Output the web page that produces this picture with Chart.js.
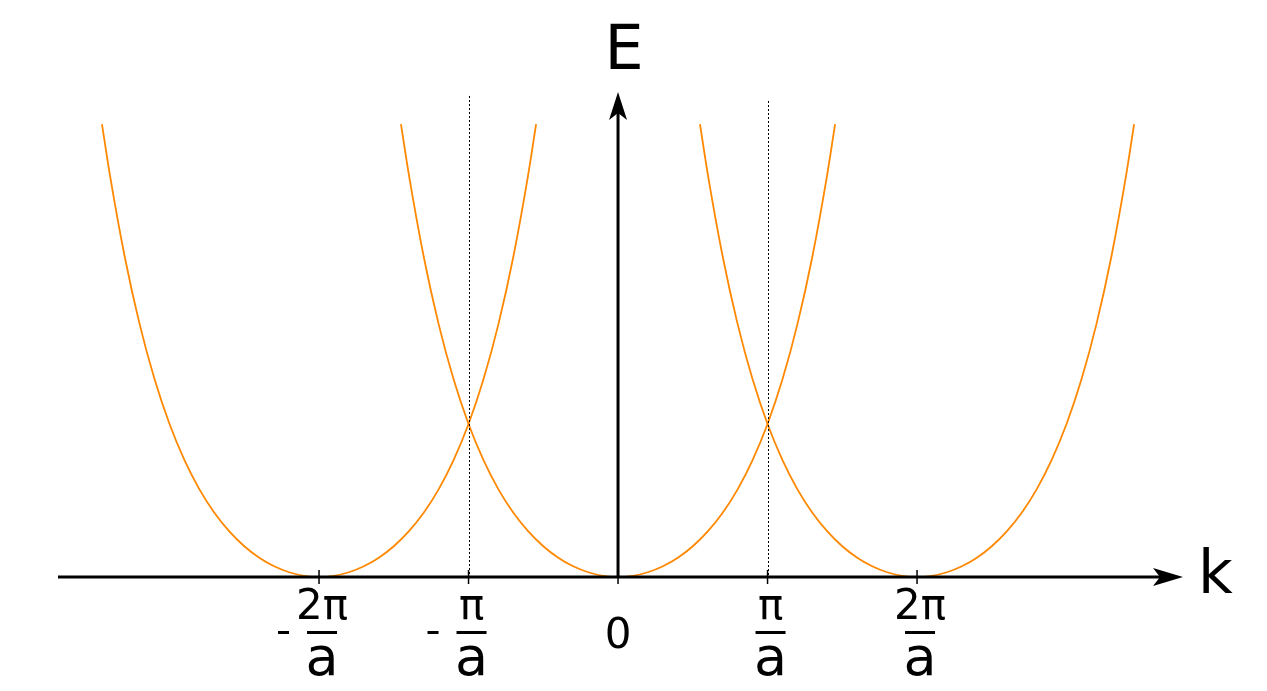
<!DOCTYPE html>
<html>
<head>
<meta charset="utf-8">
<script src="https://cdn.jsdelivr.net/npm/chart.js@4"></script>
<style>
  html, body { margin: 0; padding: 0; background: #fff; }
  #wrap { width: 1267px; height: 691px; }
</style>
</head>
<body>
<div id="wrap"><canvas id="chart" width="1267" height="691"></canvas></div>
<script>
// band profile: k offset from band centre (units of pi/a), energy (crossing = 1)
const bandOffsetK = [0, 0.1, 0.2, 0.3, 0.4, 0.5, 0.6, 0.7, 0.8, 0.9, 1.0, 1.1, 1.2, 1.3, 1.4, 1.452];
const bandEnergy = [0, 0.008, 0.031, 0.07, 0.126, 0.201, 0.298, 0.42, 0.573, 0.764, 1.0, 1.292, 1.653, 2.095, 2.635, 2.96];
const bandCentres = [-2, 0, 2];

// axis ticks
const tickK = [-2, -1, 0, 1, 2];
const tickTop = ["2π", "π", "0", "π", "2π"];
const tickSign = ["-", "-", "", "", ""];
const zoneEdges = [-1, 1];

function bandPoints(centre) {
  let pts = [];
  for (let i = bandOffsetK.length - 1; i > 0; i--) {
    pts.push({ x: centre - bandOffsetK[i], y: bandEnergy[i] });
  }
  for (let i = 0; i < bandOffsetK.length; i++) {
    pts.push({ x: centre + bandOffsetK[i], y: bandEnergy[i] });
  }
  return pts;
}

const font = "'DejaVu Sans', sans-serif";

const axesPlugin = {
  id: "axes",
  afterDatasetsDraw(chart) {
    const ctx = chart.ctx;
    const xs = chart.scales.x;
    const ys = chart.scales.y;
    const x0 = xs.getPixelForValue(0);
    const y0 = ys.getPixelForValue(0);
    const left = chart.chartArea.left;
    const right = chart.chartArea.right;
    const top = chart.chartArea.top;
    ctx.save();

    // dotted zone boundaries
    ctx.strokeStyle = "#000";
    ctx.lineWidth = 1;
    ctx.setLineDash([2, 2]);
    const dotTops = [96, 101];
    zoneEdges.forEach((k, i) => {
      const px = Math.round(xs.getPixelForValue(k)) + 0.5;
      ctx.beginPath();
      ctx.moveTo(px, dotTops[i]);
      ctx.lineTo(px, y0);
      ctx.stroke();
    });
    ctx.setLineDash([]);

    // axes
    ctx.lineWidth = 3;
    ctx.beginPath();
    ctx.moveTo(left, y0);
    ctx.lineTo(right - 20, y0);
    ctx.moveTo(x0, y0 + 1.5);
    ctx.lineTo(x0, top + 20);
    ctx.stroke();

    // arrow heads
    ctx.fillStyle = "#000";
    ctx.beginPath();
    ctx.moveTo(right, y0);
    ctx.lineTo(right - 30, y0 - 9);
    ctx.lineTo(right - 23, y0);
    ctx.lineTo(right - 30, y0 + 9);
    ctx.closePath();
    ctx.fill();
    ctx.beginPath();
    ctx.moveTo(x0, top);
    ctx.lineTo(x0 - 9, top + 28);
    ctx.lineTo(x0, top + 21);
    ctx.lineTo(x0 + 9, top + 28);
    ctx.closePath();
    ctx.fill();

    // tick marks
    ctx.lineWidth = 1.5;
    tickK.forEach(k => {
      const px = xs.getPixelForValue(k);
      ctx.beginPath();
      ctx.moveTo(px, y0 - 7);
      ctx.lineTo(px, y0 + 7);
      ctx.stroke();
    });

    // tick labels
    ctx.textAlign = "center";
    ctx.textBaseline = "alphabetic";
    tickK.forEach((k, i) => {
      const px = xs.getPixelForValue(k);
      if (k === 0) {
        ctx.font = "42px " + font;
        ctx.fillText(tickTop[i], px, y0 + 71);
        return;
      }
      const cx = px + 3;
      ctx.font = "42px " + font;
      ctx.fillText(tickTop[i], cx, y0 + 42);
      ctx.fillRect(cx - 15, y0 + 54, 30, 3);
      ctx.font = "54px " + font;
      ctx.fillText("a", cx, y0 + 98);
      if (tickSign[i]) {
        ctx.fillRect(cx - 44, y0 + 54, 11, 3);
      }
    });

    // axis titles
    ctx.font = "62px " + font;
    ctx.textAlign = "center";
    ctx.fillText("E", x0 + 6, 69);
    ctx.font = "60px " + font;
    ctx.textAlign = "left";
    ctx.fillText("k", right + 15, y0 + 16);
    ctx.restore();
  }
};

const datasets = bandCentres.map(c => ({
  data: bandPoints(c),
  borderColor: "#ff8800",
  borderWidth: 1.8,
  pointRadius: 0,
  fill: false,
  showLine: true,
  cubicInterpolationMode: "monotone",
  clip: false
}));

new Chart(document.getElementById("chart").getContext("2d"), {
  type: "scatter",
  data: { datasets: datasets },
  options: {
    responsive: false,
    animation: false,
    events: [],
    layout: { padding: { left: 58, right: 84, top: 92, bottom: 114 } },
    plugins: { legend: { display: false }, tooltip: { enabled: false } },
    scales: {
      x: { type: "linear", display: false, min: -3.746, max: 3.779 },
      y: { type: "linear", display: false, min: 0, max: 3.17 }
    }
  },
  plugins: [axesPlugin]
});
</script>
</body>
</html>
